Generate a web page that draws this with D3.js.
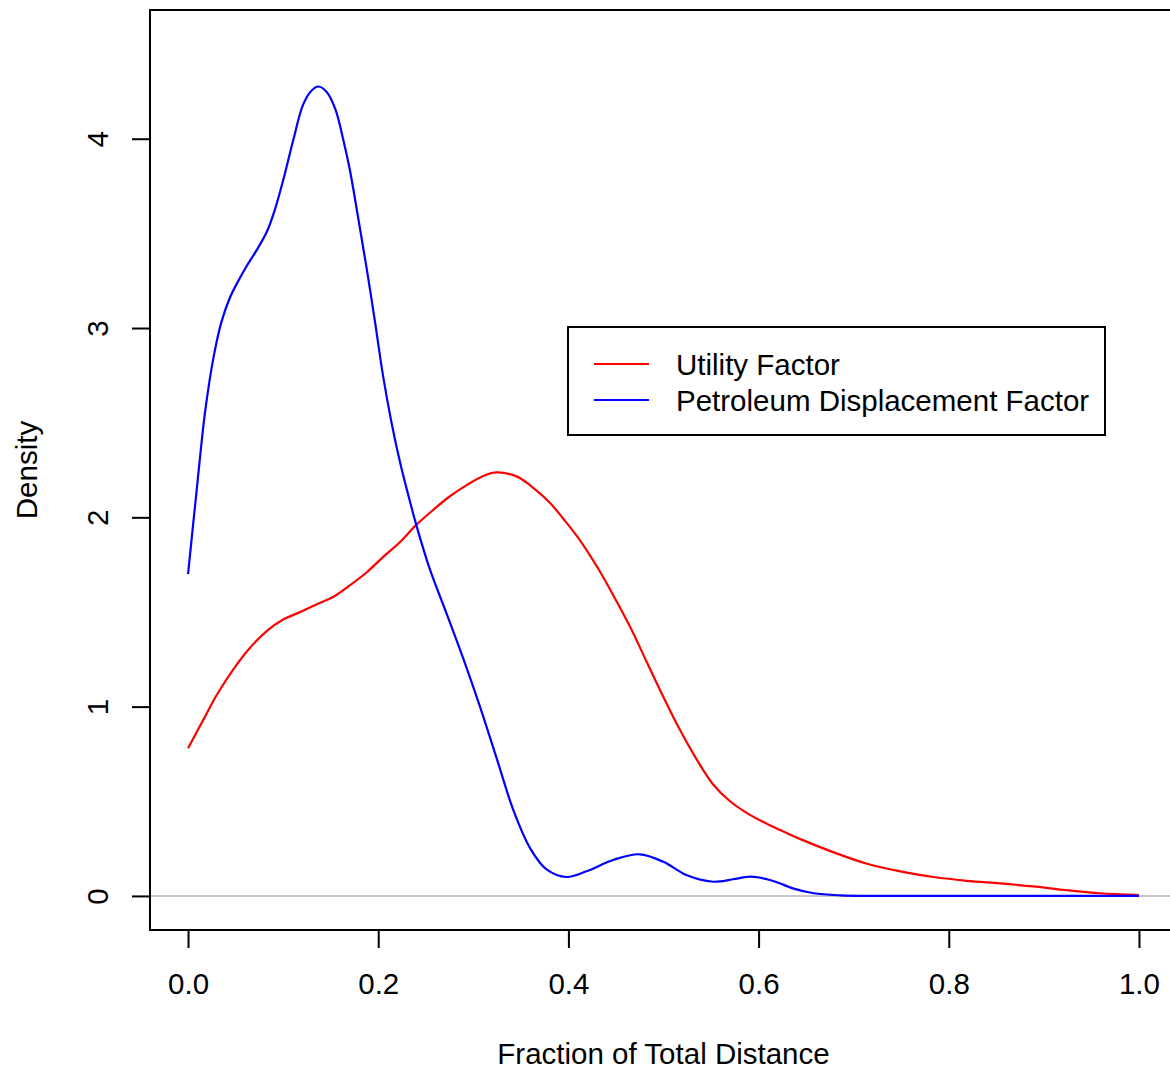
<!DOCTYPE html>
<html>
<head>
<meta charset="utf-8">
<script src="https://cdn.jsdelivr.net/npm/d3@7/dist/d3.min.js"></script>
<style>
body { margin: 0; background: #fff; }
text { font-family: "Liberation Sans", Arial, sans-serif; font-size: 29.5px; fill: #000; }
</style>
</head>
<body>
<svg id="chart" width="1170" height="1069"></svg>
<script>

// density of the utility factor (red)
var ufX = [0.000, 0.016, 0.030, 0.048, 0.065, 0.083, 0.100, 0.118, 0.135, 0.153,
           0.170, 0.188, 0.205, 0.223, 0.240, 0.258, 0.275, 0.293, 0.311, 0.325,
           0.346, 0.362, 0.380, 0.395, 0.412, 0.430, 0.447, 0.465, 0.482, 0.500,
           0.517, 0.535, 0.552, 0.570, 0.587, 0.605, 0.622, 0.644, 0.679, 0.714,
           0.749, 0.784, 0.819, 0.854, 0.889, 0.924, 0.959, 1.000];
var ufY = [0.78, 0.93, 1.06, 1.20, 1.31, 1.40, 1.46, 1.50, 1.54, 1.58,
           1.64, 1.71, 1.79, 1.87, 1.96, 2.04, 2.11, 2.17, 2.22, 2.237,
           2.215, 2.16, 2.08, 1.99, 1.88, 1.74, 1.59, 1.42, 1.24, 1.05,
           0.88, 0.72, 0.59, 0.50, 0.44, 0.39, 0.35, 0.30, 0.23, 0.17,
           0.13, 0.10, 0.08, 0.066, 0.05, 0.03, 0.014, 0.005];

// density of the petroleum displacement factor (blue)
var pdfX = [0.000, 0.009, 0.018, 0.027, 0.035, 0.044, 0.053, 0.062, 0.072, 0.083,
            0.091, 0.100, 0.111, 0.121, 0.130, 0.137, 0.146, 0.155, 0.163, 0.170,
            0.179, 0.188, 0.197, 0.205, 0.214, 0.223, 0.232, 0.240, 0.254, 0.272,
            0.289, 0.307, 0.325, 0.342, 0.360, 0.377, 0.398, 0.419, 0.447, 0.475,
            0.500, 0.524, 0.552, 0.573, 0.592, 0.609, 0.622, 0.636, 0.658, 0.686,
            0.720, 0.800, 0.900, 1.000];
var pdfY = [1.70, 2.14, 2.56, 2.85, 3.03, 3.16, 3.25, 3.33, 3.41, 3.51,
            3.62, 3.78, 4.00, 4.18, 4.255, 4.276, 4.246, 4.155, 4.00, 3.84,
            3.58, 3.31, 3.02, 2.75, 2.50, 2.29, 2.11, 1.96, 1.73, 1.49,
            1.26, 1.00, 0.72, 0.455, 0.25, 0.14, 0.10, 0.13, 0.19, 0.22,
            0.18, 0.11, 0.075, 0.088, 0.102, 0.088, 0.067, 0.04, 0.014, 0.003,
            0, 0, 0, 0];

var seriesNames = ["Utility Factor", "Petroleum Displacement Factor"];
var seriesColors = ["#FF0000", "#0000FF"];

var xTicks = [0, 0.2, 0.4, 0.6, 0.8, 1.0];
var xTickLabels = ["0.0", "0.2", "0.4", "0.6", "0.8", "1.0"];
var yTicks = [0, 1, 2, 3, 4];
var yTickLabels = ["0", "1", "2", "3", "4"];

var xTitle = "Fraction of Total Distance";
var yTitle = "Density";

/*
 * plot region, R style: data range padded by 4% on each side
 */
var plot = {left: 150, right: 1177, top: 10, bottom: 930};

var x = d3.scaleLinear().domain([-0.04, 1.04]).range([plot.left, plot.right]);
var y = d3.scaleLinear().domain([-0.18, 4.68]).range([plot.bottom, plot.top]);

var svg = d3.select('#chart');

svg.append('defs').append('clipPath')
    .attr('id', 'plotclip')
  .append('rect')
    .attr('x', plot.left)
    .attr('y', plot.top)
    .attr('width', plot.right - plot.left)
    .attr('height', plot.bottom - plot.top);

var inner = svg.append('g').attr('clip-path', 'url(#plotclip)');

// zero line of the density plot
inner.append('line')
    .attr('x1', x(-0.04)).attr('x2', x(1.04))
    .attr('y1', y(0)).attr('y2', y(0))
    .attr('stroke', '#c8c8c8')
    .attr('stroke-width', 2);

var line = d3.line()
    .x(function(d) { return x(d[0]); })
    .y(function(d) { return y(d[1]); })
    .curve(d3.curveCatmullRom.alpha(0.5));

var series = [d3.zip(ufX, ufY), d3.zip(pdfX, pdfY)];
series.forEach(function(pts, i) {
    inner.append('path')
        .datum(pts)
        .attr('d', line)
        .attr('fill', 'none')
        .attr('stroke', seriesColors[i])
        .attr('stroke-width', 2.2);
});

// box
svg.append('rect')
    .attr('x', plot.left)
    .attr('y', plot.top)
    .attr('width', plot.right - plot.left)
    .attr('height', plot.bottom - plot.top)
    .attr('fill', 'none')
    .attr('stroke', '#000')
    .attr('stroke-width', 2);

/*
 * axes
 */
var xAxis = d3.axisBottom(x)
    .tickValues(xTicks)
    .tickFormat(function(d, i) { return xTickLabels[i]; })
    .tickSize(18);

var gx = svg.append('g')
    .attr('transform', 'translate(0,' + plot.bottom + ')')
    .call(xAxis);
gx.select('.domain').remove();
gx.selectAll('.tick line').attr('stroke', '#000').attr('stroke-width', 2);
gx.selectAll('.tick text')
    .attr('y', 64)
    .attr('dy', null);

var yAxis = d3.axisLeft(y)
    .tickValues(yTicks)
    .tickFormat(function(d, i) { return yTickLabels[i]; })
    .tickSize(18);

var gy = svg.append('g')
    .attr('transform', 'translate(' + plot.left + ',0)')
    .call(yAxis);
gy.select('.domain').remove();
gy.selectAll('.tick line').attr('stroke', '#000').attr('stroke-width', 2);
// R draws y tick labels parallel to the axis
gy.selectAll('.tick text')
    .attr('transform', 'rotate(-90)')
    .attr('x', 0)
    .attr('y', -42)
    .attr('dy', null)
    .attr('text-anchor', 'middle');
gx.attr('font-size', null).attr('font-family', null);
gy.attr('font-size', null).attr('font-family', null);

svg.append('text')
    .attr('x', (plot.left + plot.right) / 2)
    .attr('y', 1064)
    .attr('text-anchor', 'middle')
    .text(xTitle);

svg.append('text')
    .attr('transform', 'translate(37,' + ((plot.top + plot.bottom) / 2) + ') rotate(-90)')
    .attr('text-anchor', 'middle')
    .text(yTitle);

/*
 * legend
 */
var legend = svg.append('g');
legend.append('rect')
    .attr('x', 568).attr('y', 327)
    .attr('width', 537).attr('height', 108)
    .attr('fill', '#fff')
    .attr('stroke', '#000')
    .attr('stroke-width', 2);

seriesNames.forEach(function(name, i) {
    var ly = 364 + i * 36;
    legend.append('line')
        .attr('x1', 594).attr('x2', 649)
        .attr('y1', ly).attr('y2', ly)
        .attr('stroke', seriesColors[i])
        .attr('stroke-width', 2);
    legend.append('text')
        .attr('x', 676)
        .attr('y', ly + 10.5)
        .text(name);
});

</script>
</body>
</html>
